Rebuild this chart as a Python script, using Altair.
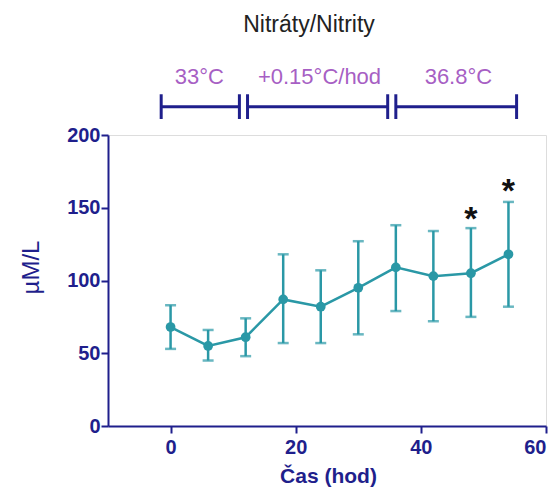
import altair as alt
import pandas as pd

# data
hours = [0, 6, 12, 18, 24, 30, 36, 42, 48, 54]
mean = [68, 55, 61, 87, 82, 95, 109, 103, 105, 118]
upper = [83, 66, 74, 118, 107, 127, 138, 134, 136, 154]
lower = [53, 45, 48, 57, 57, 63, 79, 72, 75, 82]

star_hours = [48, 54]
star_y = [147, 166]

seg_start = [-1.5, 12.3, 36.0]
seg_end = [11.0, 34.7, 55.3]
seg_label = ["33°C", "+0.15°C/hod", "36.8°C"]
seg_label_x = [4.6, 23.8, 46.0]
seg_y = 219.5
label_y = 240

NAVY = "#1f1f8c"
TEAL = "#2a98a6"
PURPLE = "#a75fc4"
FONT = "Liberation Sans"

df = pd.DataFrame({"h": hours, "m": mean, "hi": upper, "lo": lower})
stars = pd.DataFrame({"h": star_hours, "y": star_y})
segs = pd.DataFrame({"s": seg_start, "e": seg_end, "lab": seg_label,
                     "c": seg_label_x, "y": [seg_y] * 3, "ly": [label_y] * 3})
caps = pd.DataFrame({"x": seg_start + seg_end,
                     "y1": [seg_y - 8.5] * 6, "y2": [seg_y + 8.5] * 6})

xs = alt.Scale(domain=[-10, 60], nice=False, zero=False)
ys = alt.Scale(domain=[0, 200], nice=False)

xaxis = alt.Axis(values=[0, 20, 40, 60], title="Čas (hod)", grid=False,
                 domainColor=NAVY, domainWidth=2, tickColor=NAVY, tickWidth=2,
                 tickSize=7, labelColor=NAVY, labelFont=FONT, labelFontSize=20,
                 labelFontWeight="bold", labelPadding=4,
                 titleColor=NAVY, titleFont=FONT, titleFontSize=21,
                 titleFontWeight="bold", titleX=220, titleY=50,
                 titleBaseline="middle", titleAnchor="middle", titleAlign="center")
yaxis = alt.Axis(values=[0, 50, 100, 150, 200], title="µM/L", grid=False,
                 domainColor=NAVY, domainWidth=2, tickColor=NAVY, tickWidth=2,
                 tickSize=7, labelColor=NAVY, labelFont=FONT, labelFontSize=20,
                 labelFontWeight="bold", labelPadding=1,
                 titleColor=NAVY, titleFont=FONT, titleFontSize=24,
                 titleFontWeight="normal", titleX=-77, titleY=132,
                 titleAngle=-90, titleBaseline="middle", titleAlign="center")

base = alt.Chart(df)

err = base.mark_rule(color=TEAL, strokeWidth=2.5).encode(
    x=alt.X("h:Q", scale=xs, axis=xaxis),
    y=alt.Y("lo:Q", scale=ys, axis=yaxis),
    y2="hi:Q")
cap_hi = base.mark_tick(color=TEAL, orient="horizontal", size=11, thickness=2.5).encode(
    x=alt.X("h:Q", scale=xs), y=alt.Y("hi:Q", scale=ys))
cap_lo = base.mark_tick(color=TEAL, orient="horizontal", size=11, thickness=2.5).encode(
    x=alt.X("h:Q", scale=xs), y=alt.Y("lo:Q", scale=ys))
line = base.mark_line(color=TEAL, strokeWidth=2.5).encode(
    x=alt.X("h:Q", scale=xs), y=alt.Y("m:Q", scale=ys))
pts = base.mark_circle(color=TEAL, size=95, opacity=1).encode(
    x=alt.X("h:Q", scale=xs), y=alt.Y("m:Q", scale=ys))

star = alt.Chart(stars).mark_text(text="*", font=FONT, fontSize=34, fontWeight="bold",
                                  color="#111111", baseline="middle", dy=8).encode(
    x=alt.X("h:Q", scale=xs), y=alt.Y("y:Q", scale=ys))

seg_line = alt.Chart(segs).mark_rule(color=NAVY, strokeWidth=3).encode(
    x=alt.X("s:Q", scale=xs), x2="e:Q", y=alt.Y("y:Q", scale=ys))
seg_caps = alt.Chart(caps).mark_rule(color=NAVY, strokeWidth=3).encode(
    x=alt.X("x:Q", scale=xs), y=alt.Y("y1:Q", scale=ys), y2="y2:Q")
seg_text = alt.Chart(segs).mark_text(color=PURPLE, font=FONT, fontSize=22,
                                     baseline="middle").encode(
    x=alt.X("c:Q", scale=xs), y=alt.Y("ly:Q", scale=ys), text="lab:N")

chart = alt.layer(err, cap_hi, cap_lo, line, pts, star, seg_line, seg_caps, seg_text).properties(
    width=438, height=291,
    title=alt.TitleParams("Nitráty/Nitrity", font=FONT, fontSize=23, fontWeight="normal",
                          color="#222222", anchor="middle", dx=-18, offset=29),
    padding={"left": 100, "top": 127, "right": 6, "bottom": 62},
    autosize=alt.AutoSizeParams(type="none"),
).configure_view(stroke=None).configure(background="white")

chart.save("out.html", embed_options={"renderer": "svg", "actions": False})
